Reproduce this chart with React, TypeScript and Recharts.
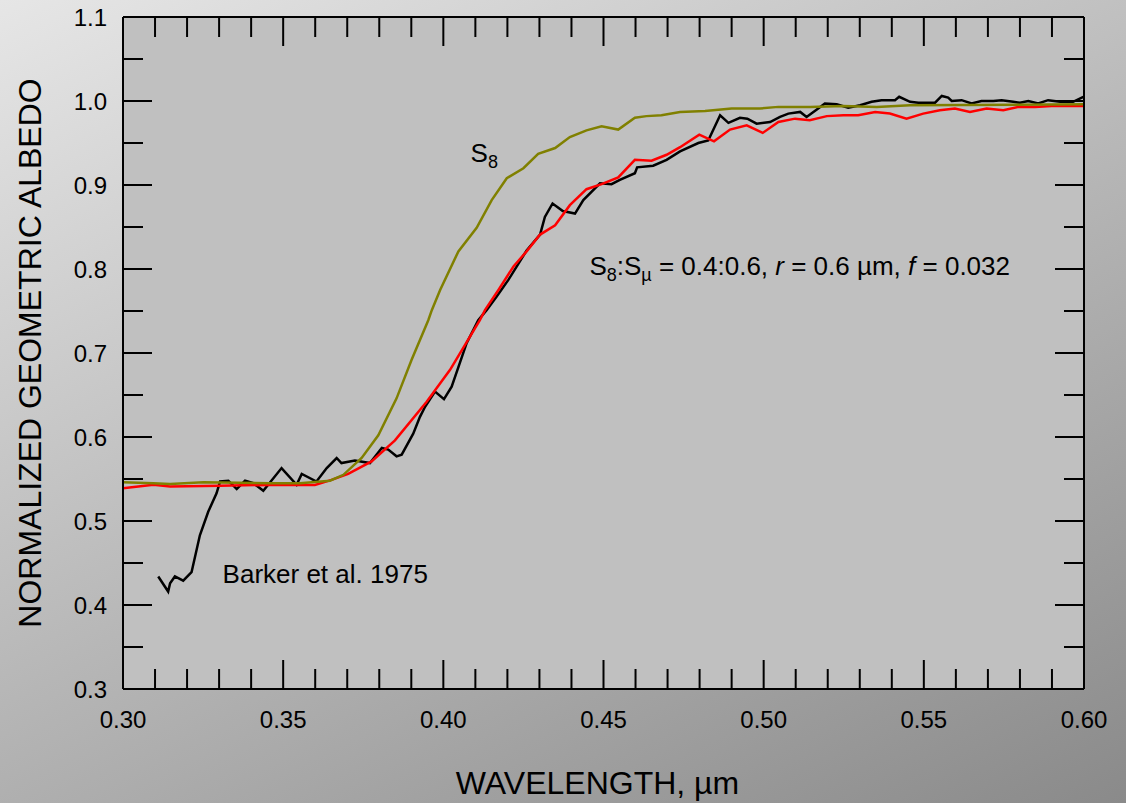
import React from 'react';
import { LineChart, Line, XAxis, YAxis, CartesianGrid, ReferenceDot } from 'recharts';

const FONT = '"Liberation Sans", Arial, Helvetica, sans-serif';

// ---- axis ticks ----
const xTicks = [0.30, 0.31, 0.32, 0.33, 0.34, 0.35, 0.36, 0.37, 0.38, 0.39, 0.40, 0.41, 0.42, 0.43, 0.44, 0.45, 0.46, 0.47, 0.48, 0.49, 0.50, 0.51, 0.52, 0.53, 0.54, 0.55, 0.56, 0.57, 0.58, 0.59, 0.60];
const xLabelTicks = [0.30, 0.35, 0.40, 0.45, 0.50, 0.55, 0.60];
const yTicks = [0.30, 0.35, 0.40, 0.45, 0.50, 0.55, 0.60, 0.65, 0.70, 0.75, 0.80, 0.85, 0.90, 0.95, 1.00, 1.05, 1.10];
const yLabelTicks = [0.3, 0.4, 0.5, 0.6, 0.7, 0.8, 0.9, 1.0, 1.1];

// ---- Barker et al. 1975 (black) ----
const barkerX = [0.3110, 0.3141, 0.3147, 0.3162, 0.3188, 0.3214, 0.3240, 0.3266, 0.3292, 0.3303, 0.3329, 0.3355, 0.3381, 0.3407, 0.3438, 0.3495, 0.3542, 0.3558, 0.3604, 0.3636, 0.3667, 0.3682, 0.3724, 0.3771, 0.3808, 0.3828, 0.3854, 0.3870, 0.3906, 0.3927, 0.3943, 0.3974, 0.4002, 0.4026, 0.4073, 0.4109, 0.4135, 0.4166, 0.4203, 0.4260, 0.4302, 0.4317, 0.4341, 0.4373, 0.4411, 0.4437, 0.4489, 0.4525, 0.4551, 0.4598, 0.4605, 0.4655, 0.4697, 0.4739, 0.4796, 0.4827, 0.4864, 0.4890, 0.4926, 0.4949, 0.4978, 0.5020, 0.5051, 0.5077, 0.5114, 0.5134, 0.5166, 0.5191, 0.5228, 0.5264, 0.5301, 0.5337, 0.5368, 0.5410, 0.5423, 0.5457, 0.5483, 0.5535, 0.5556, 0.5576, 0.5587, 0.5618, 0.5649, 0.5680, 0.5717, 0.5743, 0.5779, 0.5800, 0.5826, 0.5857, 0.5888, 0.5925, 0.5966, 0.5998];
const barkerY = [0.434, 0.416, 0.426, 0.434, 0.429, 0.439, 0.483, 0.511, 0.533, 0.547, 0.548, 0.538, 0.548, 0.545, 0.536, 0.563, 0.543, 0.556, 0.547, 0.563, 0.575, 0.569, 0.572, 0.569, 0.587, 0.585, 0.577, 0.579, 0.604, 0.624, 0.636, 0.654, 0.645, 0.660, 0.712, 0.739, 0.751, 0.767, 0.787, 0.822, 0.841, 0.862, 0.878, 0.869, 0.866, 0.882, 0.902, 0.901, 0.906, 0.914, 0.921, 0.923, 0.930, 0.940, 0.950, 0.953, 0.983, 0.974, 0.980, 0.979, 0.973, 0.975, 0.981, 0.985, 0.987, 0.981, 0.990, 0.997, 0.996, 0.992, 0.995, 0.999, 1.001, 1.001, 1.005, 0.999, 0.998, 0.998, 1.006, 1.004, 1.000, 1.001, 0.997, 1.000, 1.000, 1.001, 0.999, 0.998, 1.000, 0.997, 1.001, 0.999, 0.999, 1.005];

// ---- model S8:Smu (red) ----
const modelX = [0.300, 0.3095, 0.3147, 0.3303, 0.3459, 0.3552, 0.3599, 0.3651, 0.3703, 0.3776, 0.3849, 0.3948, 0.4021, 0.4114, 0.4130, 0.4172, 0.4219, 0.4260, 0.4302, 0.4349, 0.4395, 0.4447, 0.4494, 0.4546, 0.4598, 0.4650, 0.4697, 0.4739, 0.4799, 0.4845, 0.4895, 0.4947, 0.4997, 0.5046, 0.5098, 0.5144, 0.5197, 0.5249, 0.5295, 0.5348, 0.5394, 0.5446, 0.5498, 0.5550, 0.5597, 0.5644, 0.5696, 0.5748, 0.5795, 0.5847, 0.5899, 0.6000];
const modelY = [0.539, 0.543, 0.541, 0.542, 0.543, 0.543, 0.543, 0.549, 0.556, 0.571, 0.596, 0.642, 0.680, 0.739, 0.751, 0.775, 0.803, 0.821, 0.841, 0.852, 0.876, 0.895, 0.901, 0.909, 0.930, 0.929, 0.936, 0.945, 0.960, 0.952, 0.966, 0.971, 0.962, 0.975, 0.979, 0.977, 0.982, 0.983, 0.983, 0.987, 0.985, 0.979, 0.985, 0.989, 0.991, 0.987, 0.991, 0.989, 0.993, 0.993, 0.994, 0.994];

// ---- S8 (olive) ----
const s8X = [0.300, 0.3095, 0.3147, 0.3251, 0.3459, 0.3552, 0.3646, 0.3688, 0.3745, 0.3797, 0.3854, 0.3901, 0.3953, 0.3964, 0.3990, 0.4047, 0.4104, 0.4151, 0.4198, 0.4250, 0.4296, 0.4349, 0.4395, 0.4447, 0.4494, 0.4546, 0.4598, 0.4634, 0.4681, 0.4739, 0.4817, 0.4900, 0.4988, 0.5046, 0.5145, 0.5249, 0.5353, 0.5457, 0.6000];
const s8Y = [0.546, 0.545, 0.544, 0.546, 0.545, 0.545, 0.548, 0.555, 0.575, 0.602, 0.646, 0.692, 0.739, 0.751, 0.775, 0.821, 0.849, 0.882, 0.908, 0.920, 0.937, 0.944, 0.957, 0.965, 0.970, 0.966, 0.980, 0.982, 0.983, 0.987, 0.988, 0.991, 0.991, 0.993, 0.993, 0.994, 0.993, 0.995, 0.996];

const toData = (xs: number[], ys: number[]) => xs.map((x, i) => ({ x, y: ys[i] }));
const barkerData = toData(barkerX, barkerY);
const modelData = toData(modelX, modelY);
const s8Data = toData(s8X, s8Y);

const isIn = (arr: number[], v: number) => arr.some((t) => Math.abs(t - v) < 1e-6);
const MAJOR = 29;
const MINOR = 20;

const BottomTick = (p: any) => {
  const v = p.payload.value;
  const major = isIn(xLabelTicks, v);
  return (
    <g>
      <line x1={p.x} y1={p.y} x2={p.x} y2={p.y - (major ? MAJOR : MINOR)} stroke="#000" strokeWidth={2} />
      {major && (
        <text x={p.x} y={p.y + 39} textAnchor="middle" fontSize={24} fontFamily={FONT} fill="#000">
          {v.toFixed(2)}
        </text>
      )}
    </g>
  );
};
const TopTick = (p: any) => {
  const v = p.payload.value;
  const major = isIn(xLabelTicks, v);
  return <line x1={p.x} y1={p.y} x2={p.x} y2={p.y + (major ? MAJOR : MINOR)} stroke="#000" strokeWidth={2} />;
};
const LeftTick = (p: any) => {
  const v = p.payload.value;
  const major = isIn(yLabelTicks, v);
  return (
    <g>
      <line x1={p.x} y1={p.y} x2={p.x + (major ? MAJOR : MINOR)} y2={p.y} stroke="#000" strokeWidth={2} />
      {major && (
        <text x={p.x - 16} y={p.y + 8.5} textAnchor="end" fontSize={24} fontFamily={FONT} fill="#000">
          {v.toFixed(1)}
        </text>
      )}
    </g>
  );
};
const RightTick = (p: any) => {
  const v = p.payload.value;
  const major = isIn(yLabelTicks, v);
  return <line x1={p.x} y1={p.y} x2={p.x - (major ? MAJOR : MINOR)} y2={p.y} stroke="#000" strokeWidth={2} />;
};

const YTitle = (p: any) => {
  const vb = p.viewBox || { x: 0, y: 17, width: 123, height: 672 };
  const x = vb.x + 41;
  const y = vb.y + vb.height / 2;
  return (
    <text x={x} y={y} transform={`rotate(-90 ${x} ${y})`} textAnchor="middle" fontSize={32} fontFamily={FONT} fill="#000">
      NORMALIZED GEOMETRIC ALBEDO
    </text>
  );
};
const XTitle = (p: any) => {
  const vb = p.viewBox || { x: 123, y: 689, width: 961, height: 114 };
  return (
    <text x={vb.x + vb.width / 2 - 6} y={vb.y + 105} textAnchor="middle" fontSize={32} fontFamily={FONT} fill="#000">
      WAVELENGTH, {'\u00B5'}m
    </text>
  );
};

const S8Label = (p: any) => {
  const vb = p.viewBox || { x: 0, y: 0 };
  return (
    <text x={vb.x} y={vb.y} fontSize={26} fontFamily={FONT} fill="#000">
      S<tspan fontSize={18} dy={6}>8</tspan>
    </text>
  );
};
const BarkerLabel = (p: any) => {
  const vb = p.viewBox || { x: 0, y: 0 };
  return (
    <text x={vb.x} y={vb.y} fontSize={26} fontFamily={FONT} fill="#000">
      Barker et al. 1975
    </text>
  );
};
const FormulaLabel = (p: any) => {
  const vb = p.viewBox || { x: 0, y: 0 };
  return (
    <text x={vb.x} y={vb.y} fontSize={26} fontFamily={FONT} fill="#000" xmlSpace="preserve">
      S<tspan fontSize={18} dy={6}>8</tspan>
      <tspan dy={-6}>:S</tspan>
      <tspan fontSize={18} dy={6}>{'\u00B5'}</tspan>
      <tspan dy={-6}> = 0.4:0.6, </tspan>
      <tspan fontStyle="italic">r</tspan>
      <tspan> = 0.6 {'\u00B5'}m, </tspan>
      <tspan fontStyle="italic">f</tspan>
      <tspan> = 0.032</tspan>
    </text>
  );
};

export default function App() {
  return (
    <div
      style={{
        position: 'absolute',
        left: 0,
        top: 0,
        width: 1126,
        height: 803,
        background: 'linear-gradient(154deg, #e6e6e6, #8a8a8a)',
      }}
    >
      <LineChart width={1126} height={803} margin={{ top: 0, right: 0, bottom: 0, left: 0 }}>
        <CartesianGrid xAxisId="b" yAxisId="l" horizontal={false} vertical={false} fill="#c0c0c0" stroke="none" />
        <XAxis
          xAxisId="b"
          dataKey="x"
          type="number"
          domain={[0.3, 0.6]}
          allowDataOverflow
          ticks={xTicks}
          interval={0}
          tickSize={0}
          tickMargin={0}
          tick={<BottomTick />}
          axisLine={{ stroke: '#000', strokeWidth: 2 }}
          height={114}
          label={<XTitle />}
        />
        <XAxis
          xAxisId="t"
          orientation="top"
          dataKey="x"
          type="number"
          domain={[0.3, 0.6]}
          allowDataOverflow
          ticks={xTicks}
          interval={0}
          tickSize={0}
          tickMargin={0}
          tick={<TopTick />}
          axisLine={{ stroke: '#000', strokeWidth: 2 }}
          height={17}
        />
        <YAxis
          yAxisId="l"
          type="number"
          domain={[0.3, 1.1]}
          allowDataOverflow
          ticks={yTicks}
          interval={0}
          tickSize={0}
          tickMargin={0}
          tick={<LeftTick />}
          axisLine={{ stroke: '#000', strokeWidth: 2 }}
          width={123}
          label={<YTitle />}
        />
        <YAxis
          yAxisId="r"
          orientation="right"
          type="number"
          domain={[0.3, 1.1]}
          allowDataOverflow
          ticks={yTicks}
          interval={0}
          tickSize={0}
          tickMargin={0}
          tick={<RightTick />}
          axisLine={{ stroke: '#000', strokeWidth: 2 }}
          width={42}
        />
        <Line xAxisId="b" yAxisId="l" data={barkerData} dataKey="y" type="linear" stroke="#000000" strokeWidth={2.5} dot={false} isAnimationActive={false} />
        <Line xAxisId="b" yAxisId="l" data={modelData} dataKey="y" type="linear" stroke="#ff0000" strokeWidth={2.5} dot={false} isAnimationActive={false} />
        <Line xAxisId="b" yAxisId="l" data={s8Data} dataKey="y" type="linear" stroke="#808000" strokeWidth={2.5} dot={false} isAnimationActive={false} />
        <ReferenceDot xAxisId="b" yAxisId="l" x={0.4085} y={0.9277} r={0} fill="none" stroke="none" ifOverflow="visible" label={<S8Label />} />
        <ReferenceDot xAxisId="b" yAxisId="l" x={0.3311} y={0.4265} r={0} fill="none" stroke="none" ifOverflow="visible" label={<BarkerLabel />} />
        <ReferenceDot xAxisId="b" yAxisId="l" x={0.4456} y={0.7929} r={0} fill="none" stroke="none" ifOverflow="visible" label={<FormulaLabel />} />
      </LineChart>
    </div>
  );
}
